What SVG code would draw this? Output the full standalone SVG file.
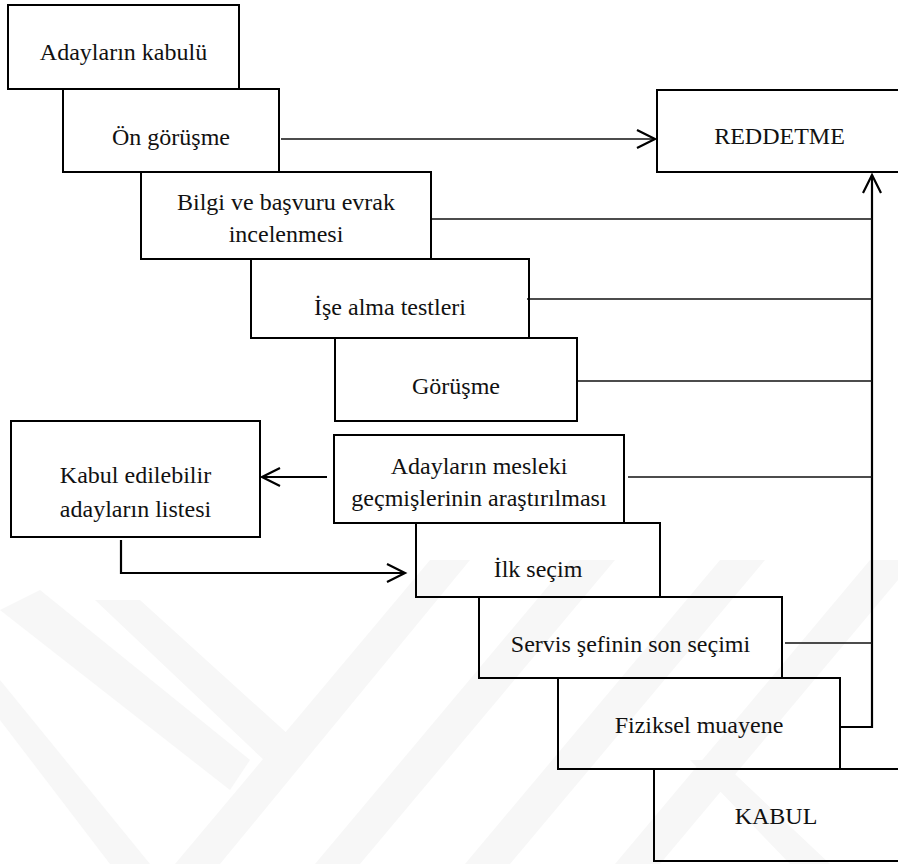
<svg xmlns="http://www.w3.org/2000/svg" width="898" height="864" viewBox="0 0 898 864">
<style>
.box{fill:none;stroke:#000;stroke-width:2}
.t{font-family:'Liberation Serif','DejaVu Serif',serif;font-size:24px;fill:#111;text-anchor:middle}
.c{fill:none;stroke:#111;stroke-width:1.6}
.v{fill:none;stroke:#000;stroke-width:2.2}
.wm{fill:#f7f7f7}
</style>
<defs>
<marker id="arr" markerUnits="userSpaceOnUse" markerWidth="24" markerHeight="24" refX="19" refY="10" orient="auto" overflow="visible">
<path d="M1,1 L19,10 L1,19" fill="none" stroke="#000" stroke-width="2.2"/>
</marker>
</defs>
<rect width="898" height="864" fill="#fff"/>
<g id="watermark">
<polygon class="wm" points="0,610 40,590 250,760 230,790"/>
<polygon class="wm" points="95,600 140,600 300,745 285,780"/>
<polygon class="wm" points="430,560 470,560 220,864 175,864"/>
<polygon class="wm" points="570,560 615,560 360,864 315,864"/>
<polygon class="wm" points="720,560 765,560 510,864 465,864"/>
<polygon class="wm" points="870,560 898,560 898,580 660,864 615,864"/>
<polygon class="wm" points="0,680 0,720 110,864 150,864"/>
<polygon class="wm" points="690,760 720,760 830,864 790,864"/>
</g>
<g id="connectors">
<path class="c" d="M281,139 H655" marker-end="url(#arr)"/>
<path class="v" d="M840,727 H872 V175" marker-end="url(#arr)"/>
<path class="c" d="M431,219 H872"/>
<path class="c" d="M527,299 H872"/>
<path class="c" d="M577,381 H872"/>
<path class="c" d="M628,477 H872"/>
<path class="c" d="M785,643 H872"/>
<path class="v" d="M327,477 H262" marker-end="url(#arr)"/>
<path class="v" d="M121,540 V573 H405" marker-end="url(#arr)"/>
</g>
<g id="n1"><rect class="box" x="8" y="5" width="231" height="84"/><text class="t" x="123.5" y="60">Adayların kabulü</text></g>
<g id="n2"><rect class="box" x="63" y="89" width="216" height="83"/><text class="t" x="171" y="145">Ön görüşme</text></g>
<g id="n3"><rect class="box" x="141" y="172" width="290" height="87"/><text class="t" x="286" y="210">Bilgi ve başvuru evrak</text><text class="t" x="286" y="242">incelenmesi</text></g>
<g id="n4"><rect class="box" x="251" y="259" width="278" height="79"/><text class="t" x="390" y="315">İşe alma testleri</text></g>
<g id="n5"><rect class="box" x="335" y="338" width="242" height="83"/><text class="t" x="456" y="394">Görüşme</text></g>
<g id="n6"><rect class="box" x="334" y="435" width="290" height="88"/><text class="t" x="479" y="474">Adayların mesleki</text><text class="t" x="479" y="506">geçmişlerinin araştırılması</text></g>
<g id="n7"><rect class="box" x="416" y="523" width="244" height="74"/><text class="t" x="538" y="577">İlk seçim</text></g>
<g id="n8"><rect class="box" x="479" y="597" width="303" height="81"/><text class="t" x="630.5" y="652">Servis şefinin son seçimi</text></g>
<g id="n9"><rect class="box" x="558" y="678" width="282" height="91"/><text class="t" x="699" y="733">Fiziksel muayene</text></g>
<g id="n10"><rect class="box" x="654" y="769" width="250" height="92"/><text class="t" x="776" y="824">KABUL</text></g>
<g id="n11"><rect class="box" x="657" y="90" width="245" height="82"/><text class="t" x="779.5" y="144">REDDETME</text></g>
<g id="n12"><rect class="box" x="11" y="421" width="249" height="116"/><text class="t" x="135.5" y="483">Kabul edilebilir</text><text class="t" x="135.5" y="517">adayların listesi</text></g>
</svg>
